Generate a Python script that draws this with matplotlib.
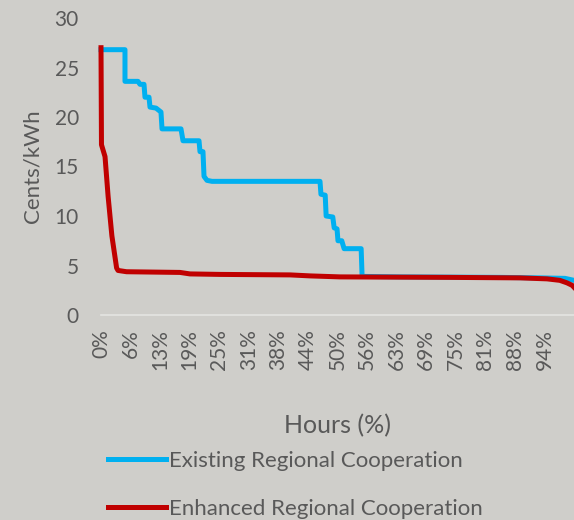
import numpy as np
import matplotlib
matplotlib.use('Agg')
import matplotlib.pyplot as plt

# %% data (hours in %, price in cents/kWh)
existing_x = [0, 5.07, 5.07, 7.82, 8.25, 9.09, 9.30, 10.15, 10.36, 11.63, 12.68, 12.90,
              16.91, 17.34, 20.72, 20.93, 21.56, 21.78, 22.41, 23.47, 46.3, 46.5, 47.4,
              47.6, 49.0, 49.3, 49.9, 50.1, 50.9, 51.4, 55.0, 55.2, 63.2, 84.4, 92.8,
              98.1, 100]
existing_y = [26.8, 26.8, 23.6, 23.6, 23.3, 23.3, 22.0, 22.0, 21.0, 20.9, 20.5, 18.8,
              18.8, 17.6, 17.6, 16.5, 16.5, 14.0, 13.6, 13.5, 13.5, 12.2, 12.1,
              10.0, 9.9, 8.8, 8.7, 7.5, 7.5, 6.7, 6.7, 3.9, 3.85, 3.8, 3.75,
              3.7, 3.5]

enhanced_x = [0, 0.1, 0.85, 1.5, 2.3, 3.3, 3.6, 5.4, 16.7, 18.8, 25.2, 40.0, 44.2,
              50.5, 73.8, 88.6, 94.3, 97.0, 98.5, 99.6, 100]
enhanced_y = [27.0, 17.2, 16.0, 12.0, 8.0, 4.75, 4.5, 4.37, 4.3, 4.15, 4.1, 4.05, 3.95,
              3.85, 3.8, 3.75, 3.65, 3.5, 3.25, 3.0, 2.8]

xtick_pos = [0, 6.25, 12.5, 18.75, 25, 31.25, 37.5, 43.75, 50, 56.25, 62.5, 68.75,
             75, 81.25, 87.5, 93.75]
xtick_labels = ['0%', '6%', '13%', '19%', '25%', '31%', '38%', '44%', '50%', '56%',
                '63%', '69%', '75%', '81%', '88%', '94%']
yticks = [0, 5, 10, 15, 20, 25, 30]

# %%
bg = '#cfceca'
txt = '#595959'
plt.rcParams['font.family'] = ['Lato', 'DejaVu Sans']

fig = plt.figure(figsize=(5.74, 5.2), dpi=100, facecolor=bg)
ax = fig.add_axes([101/574, 205/520, 473/574, 297/520], facecolor=bg)

ax.plot(existing_x, existing_y, color='#00b0f0', lw=3.6, solid_joinstyle='round',
        clip_on=False, label='Existing Regional Cooperation')
ax.plot(enhanced_x, enhanced_y, color='#c00000', lw=3.6, solid_joinstyle='round',
        clip_on=False, label='Enhanced Regional Cooperation')

ax.set_xlim(0, 100)
ax.set_ylim(0, 30)
ax.set_yticks(yticks)
ax.set_xticks(xtick_pos)
ax.set_xticklabels(xtick_labels, rotation=90)
ax.tick_params(length=0, labelsize=15, colors=txt)
ax.tick_params(axis='y', pad=16)
ax.tick_params(axis='x', pad=10)
for s in ['top', 'right', 'left']:
    ax.spines[s].set_visible(False)
ax.spines['bottom'].set_color('#e4e4e2')
ax.spines['bottom'].set_linewidth(1.2)

ax.set_ylabel('Cents/kWh', fontsize=16, color=txt, labelpad=9)
fig.text(337/574, 1 - 426/520, 'Hours (%)', fontsize=18, color=txt, ha='center', va='center')

fig.legend(loc='upper left', bbox_to_anchor=(108/574, 1 - 451/520), frameon=False,
           fontsize=16, labelcolor=txt, handlelength=2.6, handletextpad=0.15,
           labelspacing=1.25, borderpad=0, borderaxespad=0)

fig.savefig('out.png', dpi=100, facecolor=bg)
